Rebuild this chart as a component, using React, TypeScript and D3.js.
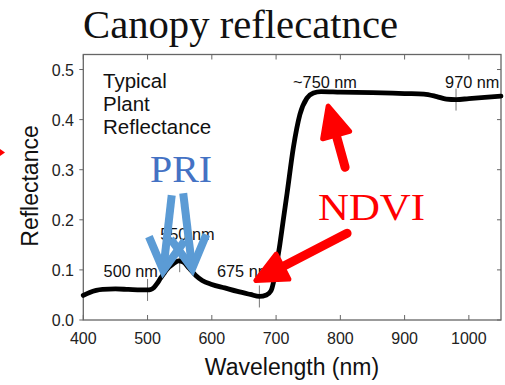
import React from "react";
import * as d3 from "d3";

// ---- data ----
const wavelengths = [400, 410, 420, 430, 450, 470, 490, 500, 505, 510, 515, 520, 525, 530, 540, 548, 555, 565, 575, 585, 600, 620, 640, 660, 674, 685, 692, 697, 701, 706, 711, 717, 727, 737, 748, 758, 770, 800, 850, 900, 930, 950, 965, 980, 1000, 1050];
const reflectance = [0.049, 0.055, 0.059, 0.061, 0.062, 0.061, 0.060, 0.060, 0.061, 0.065, 0.073, 0.083, 0.092, 0.101, 0.112, 0.118, 0.116, 0.103, 0.089, 0.079, 0.071, 0.064, 0.057, 0.051, 0.047, 0.050, 0.058, 0.082, 0.112, 0.152, 0.198, 0.252, 0.345, 0.410, 0.443, 0.453, 0.456, 0.455, 0.454, 0.452, 0.451, 0.446, 0.441, 0.440, 0.442, 0.447];
const xTicks = [400, 500, 600, 700, 800, 900, 1000];
const yTicks = [0, 0.1, 0.2, 0.3, 0.4, 0.5];
const markerNm = [500, 550, 674, 980];
const noteLines = ["Typical", "Plant", "Reflectance"];
const nmLabels = [
  { text: "~750 nm", nm: 726.5, r: 0.463 },
  { text: "970 nm", nm: 963, r: 0.463 },
  { text: "550 nm", nm: 519.7, r: 0.159 },
  { text: "500 nm", nm: 431.6, r: 0.085 },
  { text: "675 nm", nm: 608, r: 0.085 },
];
// arrows: tail -> tip in data coords
const blueArrows = [
  { from: [537.6, 0.249], to: [524.4, 0.099] },
  { from: [555.5, 0.253], to: [569.5, 0.103] },
];
const redArrows = [
  { from: [807.4, 0.305], to: [781, 0.427] },
  { from: [810.5, 0.173], to: [668.5, 0.079] },
];

const W = 505;
const H = 385;
const left = 83.3;
const right = 501;
const top = 54.5;
const bottom = 320;

export default function App() {
  const x = d3.scaleLinear().domain([400, 1050]).range([left, right]);
  const y = d3.scaleLinear().domain([0, 0.53]).range([bottom, top]);
  const pts: [number, number][] = wavelengths.map((w, i) => [w, reflectance[i]]);
  const line = d3
    .line<[number, number]>()
    .x((d) => x(d[0]))
    .y((d) => y(d[1]))
    .curve(d3.curveMonotoneX);
  const interp = (nm: number) => {
    const i = d3.bisectLeft(wavelengths, nm);
    if (i <= 0) return reflectance[0];
    const x0 = wavelengths[i - 1], x1 = wavelengths[i];
    const t = (nm - x0) / (x1 - x0);
    return reflectance[i - 1] + t * (reflectance[i] - reflectance[i - 1]);
  };
  const sans = "'Liberation Sans', Arial, sans-serif";
  const serif = "'Liberation Serif', 'Times New Roman', serif";

  const arrowGeom = (a: { from: number[]; to: number[] }, headLen: number, halfW: number) => {
    const x0 = x(a.from[0]), y0 = y(a.from[1]);
    const x1 = x(a.to[0]), y1 = y(a.to[1]);
    const dx = x1 - x0, dy = y1 - y0;
    const L = Math.hypot(dx, dy);
    const ux = dx / L, uy = dy / L;
    const bx = x1 - ux * headLen, by = y1 - uy * headLen;
    const w1: [number, number] = [bx - uy * halfW, by + ux * halfW];
    const w2: [number, number] = [bx + uy * halfW, by - ux * halfW];
    return { x0, y0, x1, y1, bx, by, w1, w2 };
  };

  return (
    <svg width={W} height={H} style={{ position: "absolute", left: 0, top: 0, background: "#fff" }}>
      <rect width={W} height={H} fill="#fff" />
      <text x={83} y={38} fontFamily={serif} fontSize={40} fill="#111" textLength={315} lengthAdjust="spacingAndGlyphs">
        Canopy reflecatnce
      </text>
      {/* frame */}
      <rect x={left} y={top} width={right - left} height={bottom - top} fill="none" stroke="#666" strokeWidth={1.3} />
      {xTicks.map((t) => (
        <g key={"xt" + t}>
          <line x1={x(t)} x2={x(t)} y1={bottom} y2={bottom - 5} stroke="#666" strokeWidth={1} />
          <line x1={x(t)} x2={x(t)} y1={top} y2={top + 5} stroke="#666" strokeWidth={1} />
          <text x={x(t)} y={344} textAnchor="middle" fontFamily={sans} fontSize={16} fill="#222">
            {t}
          </text>
        </g>
      ))}
      {yTicks.map((t) => (
        <g key={"yt" + t}>
          <line x1={left - 4} x2={left} y1={y(t)} y2={y(t)} stroke="#666" strokeWidth={1} />
          <line x1={right - 4} x2={right} y1={y(t)} y2={y(t)} stroke="#666" strokeWidth={1} />
          <text x={74} y={y(t) + 6} textAnchor="end" fontFamily={sans} fontSize={16} fill="#222">
            {d3.format(".1f")(t)}
          </text>
        </g>
      ))}
      <text x={292} y={375} textAnchor="middle" fontFamily={sans} fontSize={23} fill="#111">
        Wavelength (nm)
      </text>
      <text transform="translate(38,186) rotate(-90)" textAnchor="middle" fontFamily={sans} fontSize={23} fill="#111">
        Reflectance
      </text>
      {/* markers */}
      {markerNm.map((m) => (
        <line key={"m" + m} x1={x(m)} x2={x(m)} y1={y(interp(m)) - 11} y2={y(interp(m)) + 11} stroke="#777" strokeWidth={1} />
      ))}
      {/* curve */}
      <path d={line(pts) || ""} fill="none" stroke="#000" strokeWidth={4.8} strokeLinecap="round" strokeLinejoin="round" />
      {/* note */}
      {noteLines.map((s, i) => (
        <text key={s} x={103} y={88 + i * 23.2} fontFamily={sans} fontSize={20.5} fill="#111">
          {s}
        </text>
      ))}
      {nmLabels.map((l) => (
        <text key={l.text} x={x(l.nm)} y={y(l.r)} fontFamily={sans} fontSize={16.3} fill="#111">
          {l.text}
        </text>
      ))}
      {/* blue PRI arrows */}
      {blueArrows.map((a, i) => {
        const g = arrowGeom(a, 32, 18);
        return (
          <g key={"b" + i} stroke="#5B9BD5" strokeWidth={8} fill="none" strokeLinejoin="miter" strokeLinecap="butt">
            <line x1={g.x0} y1={g.y0} x2={g.x1} y2={g.y1} />
            <polyline points={`${g.w1[0]},${g.w1[1]} ${g.x1},${g.y1} ${g.w2[0]},${g.w2[1]}`} strokeMiterlimit={10} />
          </g>
        );
      })}
      <text x={150} y={182} fontFamily={serif} fontSize={38} fill="#4472C4" textLength={62} lengthAdjust="spacingAndGlyphs">
        PRI
      </text>
      {/* red NDVI arrows */}
      {redArrows.map((a, i) => {
        const g = arrowGeom(a, 30, 14);
        return (
          <g key={"r" + i}>
            <line x1={g.x0} y1={g.y0} x2={g.bx} y2={g.by} stroke="#FF0000" strokeWidth={9} strokeLinecap="round" />
            <polygon
              points={`${g.w1[0]},${g.w1[1]} ${g.x1},${g.y1} ${g.w2[0]},${g.w2[1]}`}
              fill="#FF0000"
              stroke="#FF0000"
              strokeWidth={5}
              strokeLinejoin="round"
            />
          </g>
        );
      })}
      <text x={318} y={220} fontFamily={serif} fontSize={38} fill="#FF0000" textLength={107} lengthAdjust="spacingAndGlyphs">
        NDVI
      </text>
      <polygon points="0,149 5,152.5 0,156" fill="#FF0000" />
    </svg>
  );
}
